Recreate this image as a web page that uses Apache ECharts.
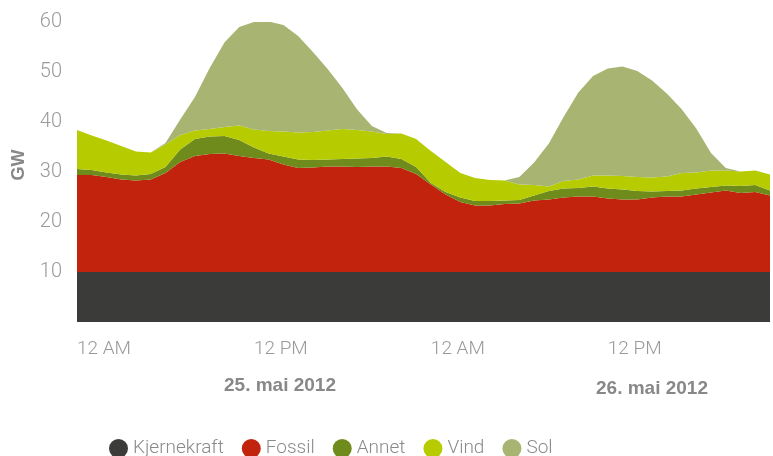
<!DOCTYPE html>
<html>
<head>
<meta charset="utf-8">
<script src="https://cdn.jsdelivr.net/npm/echarts@6/dist/echarts.min.js"></script>
<style>
  html, body { margin: 0; padding: 0; background: #fff; }
  #chart { width: 773px; height: 456px; }
</style>
</head>
<body>
<div id="chart"></div>
<script>
// hourly values, 25.-26. mai 2012 (GW)
var hours = [];
for (var h = 0; h < 48; h++) hours.push(h);

var kjernekraft = [10,10,10,10,10,10,10,10,10,10,10,10,10,10,10,10,10,10,10,10,10,10,10,10,
                   10,10,10,10,10,10,10,10,10,10,10,10,10,10,10,10,10,10,10,10,10,10,10,10];
var fossil = [19.4,19.4,19.0,18.5,18.3,18.5,19.8,22.0,23.2,23.6,23.7,23.2,22.8,22.5,21.5,20.8,20.9,21.1,21.1,21.0,21.1,21.1,20.8,19.6,
              17.5,15.5,14.0,13.3,13.3,13.6,13.7,14.3,14.5,14.9,15.1,15.1,14.7,14.5,14.5,14.9,15.1,15.1,15.5,15.9,16.3,15.8,16.0,15.3];
var annet = [1.2,1.0,0.9,1.0,1.0,1.1,1.2,2.5,3.4,3.5,3.5,3.2,2.1,1.2,1.6,1.7,1.5,1.4,1.5,1.7,1.7,2.0,1.8,1.4,
             0.3,0.5,0.9,0.9,0.9,0.7,0.7,1.0,1.7,1.8,1.7,2.0,2.0,2.0,1.7,1.2,1.1,1.2,1.2,1.1,1.0,1.4,1.4,1.0];
var vind = [7.8,6.9,6.4,5.7,4.8,4.3,4.5,2.9,1.7,1.5,1.8,2.9,3.6,4.5,5.0,5.4,5.6,5.8,6.0,5.7,5.3,4.5,5.1,5.6,
            6.4,6.0,4.9,4.6,4.2,4.0,3.1,2.1,0.9,1.5,1.7,2.2,2.6,2.7,2.8,2.8,2.9,3.5,3.2,3.3,3.0,2.9,2.9,3.2];
var sol = [0,0,0,0,0,0,0.3,3.1,6.7,12.2,16.9,19.7,21.5,21.9,21.3,19.3,16.0,12.3,8.2,4.1,1.1,0.2,0,0,
           0,0,0,0,0,0,1.5,4.5,8.6,12.8,17.4,19.9,21.4,21.9,21.2,19.4,16.6,12.8,8.8,3.5,0.5,0,0,0];

var hourLabels = {0: '12 AM', 12: '12 PM', 24: '12 AM', 36: '12 PM'};
var dayLabels = ['25. mai 2012', '26. mai 2012'];

var names = ['Kjernekraft', 'Fossil', 'Annet', 'Vind', 'Sol'];
var colors = ['#3b3b3a', '#c2230c', '#6f8b1c', '#b6cc00', '#a8b472'];
var values = [kjernekraft, fossil, annet, vind, sol];

var myChart = echarts.init(document.getElementById('chart'));

var series = names.map(function (name, i) {
    return {
        name: name,
        type: 'line',
        stack: 'total',
        data: values[i],
        symbol: 'none',
        lineStyle: { width: 0 },
        areaStyle: { color: colors[i], opacity: 1 },
        itemStyle: { color: colors[i] },
        emphasis: { disabled: true }
    };
});

myChart.setOption({
    animation: false,
    grid: { left: 77, right: 0, top: 22, bottom: 134 },
    legend: {
        data: names,
        left: 104,
        top: 434,
        icon: 'circle',
        itemWidth: 19,
        itemHeight: 19,
        itemGap: 18,
        textStyle: { color: '#8a8a8a', fontSize: 19, fontFamily: 'Roboto', fontWeight: 300 }
    },
    xAxis: {
        type: 'category',
        boundaryGap: false,
        data: hours,
        axisLine: { show: false },
        axisTick: { show: false },
        axisLabel: {
            interval: 0,
            margin: 18,
            align: 'left',
            color: '#999',
            fontSize: 19,
            fontFamily: 'Roboto',
            fontWeight: 300,
            formatter: function (v, idx) {
                return hourLabels[idx] || '';
            }
        }
    },
    yAxis: {
        type: 'value',
        min: 0,
        max: 60,
        interval: 10,
        splitLine: { show: false },
        axisLine: { show: false },
        axisTick: { show: false },
        axisLabel: {
            margin: 15,
            color: '#9a9a9a',
            fontSize: 20,
            fontFamily: 'Roboto',
            fontWeight: 300,
            formatter: function (v) { return v === 0 ? '' : v; }
        }
    },
    graphic: [
        {
            type: 'text', x: 19, y: 165, rotation: Math.PI / 2,
            style: { text: 'GW', fill: '#888', font: 'bold 18px "Liberation Sans"', align: 'center', verticalAlign: 'middle' }
        },
        {
            type: 'text', x: 280, y: 386,
            style: { text: dayLabels[0], fill: '#888', font: 'bold 19px "Liberation Sans"', align: 'center', verticalAlign: 'middle' }
        },
        {
            type: 'text', x: 652, y: 389,
            style: { text: dayLabels[1], fill: '#888', font: 'bold 19px "Liberation Sans"', align: 'center', verticalAlign: 'middle' }
        }
    ],
    series: series
});
</script>
</body>
</html>
